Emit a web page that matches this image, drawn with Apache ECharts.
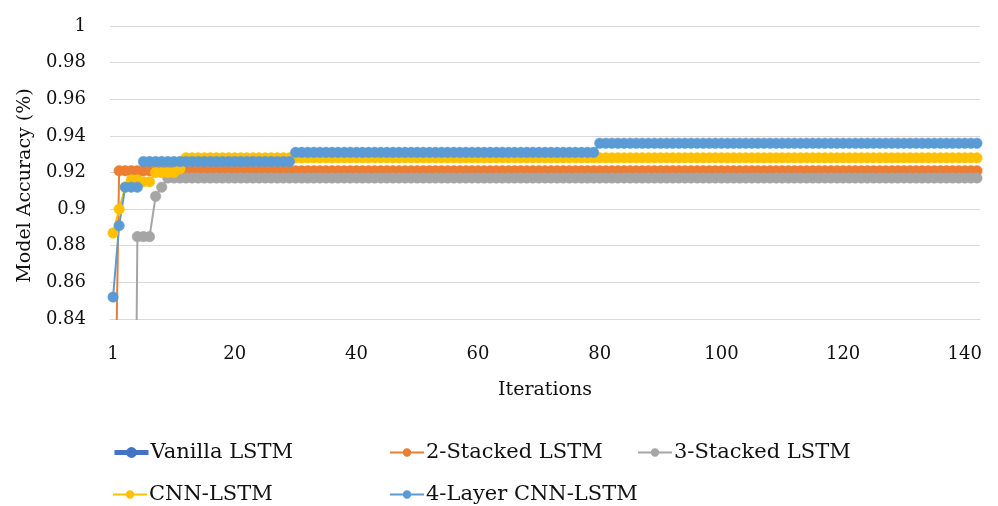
<!DOCTYPE html>
<html>
<head>
<meta charset="utf-8">
<script src="https://cdn.jsdelivr.net/npm/echarts@6/dist/echarts.min.js"></script>
<style>
  html, body { margin: 0; padding: 0; background: #fff; }
  #chart { width: 998px; height: 506px; }
</style>
</head>
<body>
<div id="chart"></div>
<script>
// Iteration categories (143 training iterations)
const iterations = [
  1,2,3,4,5,6,7,8,9,10,11,12,13,14,15,16,17,18,19,20,
  21,22,23,24,25,26,27,28,29,30,31,32,33,34,35,36,37,38,39,40,
  41,42,43,44,45,46,47,48,49,50,51,52,53,54,55,56,57,58,59,60,
  61,62,63,64,65,66,67,68,69,70,71,72,73,74,75,76,77,78,79,80,
  81,82,83,84,85,86,87,88,89,90,91,92,93,94,95,96,97,98,99,100,
  101,102,103,104,105,106,107,108,109,110,111,112,113,114,115,116,117,118,119,120,
  121,122,123,124,125,126,127,128,129,130,131,132,133,134,135,136,137,138,139,140,
  141,142,143
];

// Labels shown every 20 categories along the x axis
const xTickLabels = ['1', '20', '40', '60', '80', '100', '120', '140'];

// Vanilla LSTM stays below the plotted accuracy range
const vanillaLSTM = [];

const stacked2LSTM = [
  0.71,0.921,0.921,0.921,0.921,0.921,0.921,0.921,0.921,0.921,0.921,0.921,0.921,0.921,0.921,0.921,0.921,0.921,0.921,0.921,
  0.921,0.921,0.921,0.921,0.921,0.921,0.921,0.921,0.921,0.921,0.921,0.921,0.921,0.921,0.921,0.921,0.921,0.921,0.921,0.921,
  0.921,0.921,0.921,0.921,0.921,0.921,0.921,0.921,0.921,0.921,0.921,0.921,0.921,0.921,0.921,0.921,0.921,0.921,0.921,0.921,
  0.921,0.921,0.921,0.921,0.921,0.921,0.921,0.921,0.921,0.921,0.921,0.921,0.921,0.921,0.921,0.921,0.921,0.921,0.921,0.921,
  0.921,0.921,0.921,0.921,0.921,0.921,0.921,0.921,0.921,0.921,0.921,0.921,0.921,0.921,0.921,0.921,0.921,0.921,0.921,0.921,
  0.921,0.921,0.921,0.921,0.921,0.921,0.921,0.921,0.921,0.921,0.921,0.921,0.921,0.921,0.921,0.921,0.921,0.921,0.921,0.921,
  0.921,0.921,0.921,0.921,0.921,0.921,0.921,0.921,0.921,0.921,0.921,0.921,0.921,0.921,0.921,0.921,0.921,0.921,0.921,0.921,
  0.921,0.921,0.921
];

const stacked3LSTM = [
  0.5,0.5,0.5,0.5,0.885,0.885,0.885,0.907,0.912,0.917,0.917,0.917,0.917,0.917,0.917,0.917,0.917,0.917,0.917,0.917,
  0.917,0.917,0.917,0.917,0.917,0.917,0.917,0.917,0.917,0.917,0.917,0.917,0.917,0.917,0.917,0.917,0.917,0.917,0.917,0.917,
  0.917,0.917,0.917,0.917,0.917,0.917,0.917,0.917,0.917,0.917,0.917,0.917,0.917,0.917,0.917,0.917,0.917,0.917,0.917,0.917,
  0.917,0.917,0.917,0.917,0.917,0.917,0.917,0.917,0.917,0.917,0.917,0.917,0.917,0.917,0.917,0.917,0.917,0.917,0.917,0.917,
  0.917,0.917,0.917,0.917,0.917,0.917,0.917,0.917,0.917,0.917,0.917,0.917,0.917,0.917,0.917,0.917,0.917,0.917,0.917,0.917,
  0.917,0.917,0.917,0.917,0.917,0.917,0.917,0.917,0.917,0.917,0.917,0.917,0.917,0.917,0.917,0.917,0.917,0.917,0.917,0.917,
  0.917,0.917,0.917,0.917,0.917,0.917,0.917,0.917,0.917,0.917,0.917,0.917,0.917,0.917,0.917,0.917,0.917,0.917,0.917,0.917,
  0.917,0.917,0.917
];

const cnnLSTM = [
  0.887,0.900,0.912,0.916,0.916,0.915,0.915,0.920,0.920,0.920,0.920,0.922,0.928,0.928,0.928,0.928,0.928,0.928,0.928,0.928,
  0.928,0.928,0.928,0.928,0.928,0.928,0.928,0.928,0.928,0.928,0.928,0.928,0.928,0.928,0.928,0.928,0.928,0.928,0.928,0.928,
  0.928,0.928,0.928,0.928,0.928,0.928,0.928,0.928,0.928,0.928,0.928,0.928,0.928,0.928,0.928,0.928,0.928,0.928,0.928,0.928,
  0.928,0.928,0.928,0.928,0.928,0.928,0.928,0.928,0.928,0.928,0.928,0.928,0.928,0.928,0.928,0.928,0.928,0.928,0.928,0.928,
  0.928,0.928,0.928,0.928,0.928,0.928,0.928,0.928,0.928,0.928,0.928,0.928,0.928,0.928,0.928,0.928,0.928,0.928,0.928,0.928,
  0.928,0.928,0.928,0.928,0.928,0.928,0.928,0.928,0.928,0.928,0.928,0.928,0.928,0.928,0.928,0.928,0.928,0.928,0.928,0.928,
  0.928,0.928,0.928,0.928,0.928,0.928,0.928,0.928,0.928,0.928,0.928,0.928,0.928,0.928,0.928,0.928,0.928,0.928,0.928,0.928,
  0.928,0.928,0.928
];

const cnnLSTM4Layer = [
  0.852,0.891,0.912,0.912,0.912,0.926,0.926,0.926,0.926,0.926,0.926,0.926,0.926,0.926,0.926,0.926,0.926,0.926,0.926,0.926,
  0.926,0.926,0.926,0.926,0.926,0.926,0.926,0.926,0.926,0.926,0.931,0.931,0.931,0.931,0.931,0.931,0.931,0.931,0.931,0.931,
  0.931,0.931,0.931,0.931,0.931,0.931,0.931,0.931,0.931,0.931,0.931,0.931,0.931,0.931,0.931,0.931,0.931,0.931,0.931,0.931,
  0.931,0.931,0.931,0.931,0.931,0.931,0.931,0.931,0.931,0.931,0.931,0.931,0.931,0.931,0.931,0.931,0.931,0.931,0.931,0.931,
  0.936,0.936,0.936,0.936,0.936,0.936,0.936,0.936,0.936,0.936,0.936,0.936,0.936,0.936,0.936,0.936,0.936,0.936,0.936,0.936,
  0.936,0.936,0.936,0.936,0.936,0.936,0.936,0.936,0.936,0.936,0.936,0.936,0.936,0.936,0.936,0.936,0.936,0.936,0.936,0.936,
  0.936,0.936,0.936,0.936,0.936,0.936,0.936,0.936,0.936,0.936,0.936,0.936,0.936,0.936,0.936,0.936,0.936,0.936,0.936,0.936,
  0.936,0.936,0.936
];

const FONT = 'DejaVu Serif';
const TEXT_COLOR = '#111111';

function lineSeries(name, data, color, width, size) {
  return {
    name: name,
    type: 'line',
    data: data,
    symbol: 'circle',
    symbolSize: size,
    showSymbol: true,
    showAllSymbol: true,
    clip: true,
    lineStyle: { color: color, width: width },
    itemStyle: { color: color, borderColor: color, borderWidth: 0.5 },
    emphasis: { disabled: true }
  };
}

// One legend block per entry so the two rows share column positions
function legendAt(name, left, top, lineWidth, markSize) {
  return {
    data: [{ name: name, lineStyle: { width: lineWidth } }],
    left: left,
    top: top,
    padding: 0,
    itemWidth: 34,
    itemHeight: markSize,
    itemGap: 0,
    textStyle: { fontFamily: FONT, fontSize: 21, color: TEXT_COLOR, padding: [0, 0, 0, -3] },
    selectedMode: false
  };
}

const chart = echarts.init(document.getElementById('chart'), null, { renderer: 'canvas' });

chart.setOption({
  animation: false,
  backgroundColor: '#fff',
  grid: { left: 110, right: 18, top: 26, bottom: 187, containLabel: false },
  legend: [
    legendAt('Vanilla LSTM', 112, 442, 5, 11),
    legendAt('2-Stacked LSTM', 389, 442, 2, 8),
    legendAt('3-Stacked LSTM', 637, 442, 2, 8),
    legendAt('CNN-LSTM', 112, 484, 2, 8),
    legendAt('4-Layer CNN-LSTM', 389, 484, 2, 8)
  ],
  xAxis: {
    type: 'category',
    data: iterations,
    boundaryGap: true,
    name: 'Iterations',
    nameLocation: 'middle',
    nameGap: 62,
    nameTextStyle: { fontFamily: FONT, fontSize: 19, color: TEXT_COLOR },
    axisLine: { show: true, lineStyle: { color: '#D9D9D9', width: 1 } },
    axisTick: { show: false },
    axisLabel: {
      interval: 19,
      margin: 26,
      fontFamily: FONT,
      fontSize: 18,
      color: TEXT_COLOR,
      formatter: function (value, index) {
        return index % 20 === 0 ? xTickLabels[index / 20] : '';
      }
    },
    splitLine: { show: false }
  },
  yAxis: {
    type: 'value',
    min: 0.84,
    max: 1,
    interval: 0.02,
    name: 'Model Accuracy (%)',
    nameLocation: 'middle',
    nameGap: 73,
    nameTextStyle: { fontFamily: FONT, fontSize: 19, color: TEXT_COLOR, padding: [0, 26, 0, 0] },
    axisLine: { show: false },
    axisTick: { show: false },
    axisLabel: {
      margin: 24,
      fontFamily: FONT,
      fontSize: 18,
      color: TEXT_COLOR,
      formatter: function (v) { return String(+v.toFixed(2)); }
    },
    splitLine: { show: true, lineStyle: { color: '#D9D9D9', width: 1 } }
  },
  series: [
    lineSeries('Vanilla LSTM', vanillaLSTM, '#4472C4', 4.5, 11),
    lineSeries('2-Stacked LSTM', stacked2LSTM, '#ED7D31', 2, 10.5),
    lineSeries('3-Stacked LSTM', stacked3LSTM, '#A5A5A5', 2, 10.5),
    lineSeries('CNN-LSTM', cnnLSTM, '#FFC000', 2, 10.5),
    lineSeries('4-Layer CNN-LSTM', cnnLSTM4Layer, '#5B9BD5', 2, 10.5)
  ]
});
</script>
</body>
</html>
